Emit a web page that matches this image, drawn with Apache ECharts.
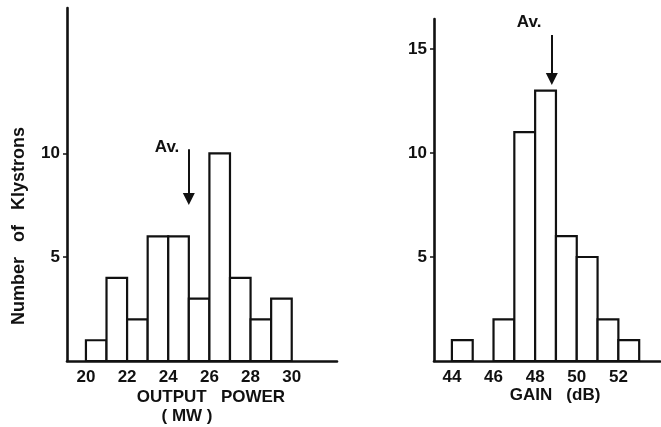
<!DOCTYPE html>
<html>
<head>
<meta charset="utf-8">
<script src="https://cdn.jsdelivr.net/npm/echarts@6/dist/echarts.min.js"></script>
<style>html,body{margin:0;padding:0;background:#fff;}#c{width:661px;height:427px;}</style>
</head>
<body>
<div id="c"></div>
<script>
// ---- data ----
const powerBinStarts = [20, 21, 22, 23, 24, 25, 26, 27, 28, 29];
const powerCounts    = [1, 4, 2, 6, 6, 3, 10, 4, 2, 3];
const gainBinStarts  = [44, 45, 46, 47, 48, 49, 50, 51, 52];
const gainCounts     = [1, 0, 2, 11, 13, 6, 5, 2, 1];
const binWidth = 1;
const powerTicks = [20, 22, 24, 26, 28, 30];
const gainTicks  = [44, 46, 48, 50, 52];
const leftYTicks  = [5, 10];
const rightYTicks = [5, 10, 15];
const powerAverage = 25.0;
const gainAverage  = 48.8;
const powerArrowY = [10.2, 7.8];
const gainArrowY  = [15.67, 13.55];
const powerAvLabel = [23.94, 10.29];
const gainAvLabel  = [47.71, 16.3];

const FONT = 'Liberation Sans';
const INK = '#111';

function renderBin(params, api) {
  const x0 = api.value(0), n = api.value(1);
  if (!n) return null;
  const p0 = api.coord([x0, n]);
  const p1 = api.coord([x0 + binWidth, 0]);
  return {
    type: 'rect',
    shape: { x: p0[0], y: p0[1], width: p1[0] - p0[0], height: p1[1] - p0[1] },
    style: { fill: '#fff', stroke: INK, lineWidth: 2.2 }
  };
}

function xAxisOf(idx, min, max, ticks) {
  return {
    type: 'value', gridIndex: idx, min: min, max: max,
    splitLine: { show: false },
    axisLine: { show: true, onZero: false, lineStyle: { color: INK, width: 2.6 } },
    axisTick: { show: false },
    axisLabel: { customValues: ticks, color: INK, fontFamily: FONT, fontWeight: 'bold', fontSize: 17, margin: 8 }
  };
}
function yAxisOf(idx, max, ticks) {
  return {
    type: 'value', gridIndex: idx, min: 0, max: max,
    splitLine: { show: false },
    axisLine: { show: true, onZero: false, lineStyle: { color: INK, width: 2.6 } },
    axisTick: { show: true, customValues: ticks, length: 4, lineStyle: { color: INK, width: 1.5 } },
    axisLabel: { customValues: ticks, color: INK, fontFamily: FONT, fontWeight: 'bold', fontSize: 17, margin: 7 }
  };
}
function markers(avg, arrowY, labelPos) {
  return {
    markLine: {
      silent: true,
      symbol: ['none', 'triangle'],
      symbolSize: 12,
      lineStyle: { color: INK, width: 2, type: 'solid' },
      label: { show: false },
      data: [[{ coord: [avg, arrowY[0]] }, { coord: [avg, arrowY[1]] }]]
    },
    markPoint: {
      silent: true,
      symbol: 'circle', symbolSize: 1,
      itemStyle: { color: 'rgba(0,0,0,0)' },
      label: { show: true, position: 'inside', formatter: 'Av.', color: INK, fontFamily: FONT, fontWeight: 'bold', fontSize: 17 },
      data: [{ coord: labelPos }]
    }
  };
}

const chart = echarts.init(document.getElementById('c'), null, { renderer: 'canvas' });
chart.setOption({
  animation: false,
  backgroundColor: '#fff',
  grid: [
    { left: 67, right: 324, top: 8, bottom: 66 },
    { left: 434, right: 1, top: 19, bottom: 66 }
  ],
  xAxis: [xAxisOf(0, 19.08, 32.2, powerTicks), xAxisOf(1, 43.14, 54, gainTicks)],
  yAxis: [yAxisOf(0, 17, leftYTicks), yAxisOf(1, 16.44, rightYTicks)],
  series: [
    Object.assign({
      type: 'custom', xAxisIndex: 0, yAxisIndex: 0,
      renderItem: renderBin, encode: { x: 0, y: 1 },
      data: powerBinStarts.map((s, i) => [s, powerCounts[i]])
    }, markers(powerAverage, powerArrowY, powerAvLabel)),
    Object.assign({
      type: 'custom', xAxisIndex: 1, yAxisIndex: 1,
      renderItem: renderBin, encode: { x: 0, y: 1 },
      data: gainBinStarts.map((s, i) => [s, gainCounts[i]])
    }, markers(gainAverage, gainArrowY, gainAvLabel))
  ],
  graphic: [
    { type: 'text', x: 19, y: 226, rotation: Math.PI / 2, style: { text: 'Number   of   Klystrons', fill: INK, font: 'bold 18px "Liberation Sans"', textAlign: 'center', textVerticalAlign: 'middle' } },
    { type: 'text', x: 211, y: 397, style: { text: 'OUTPUT   POWER', fill: INK, font: 'bold 17px "Liberation Sans"', textAlign: 'center', textVerticalAlign: 'middle' } },
    { type: 'text', x: 187, y: 416, style: { text: '( MW )', fill: INK, font: 'bold 17px "Liberation Sans"', textAlign: 'center', textVerticalAlign: 'middle' } },
    { type: 'text', x: 555, y: 395, style: { text: 'GAIN   (dB)', fill: INK, font: 'bold 17px "Liberation Sans"', textAlign: 'center', textVerticalAlign: 'middle' } }
  ]
});
</script>
</body>
</html>
